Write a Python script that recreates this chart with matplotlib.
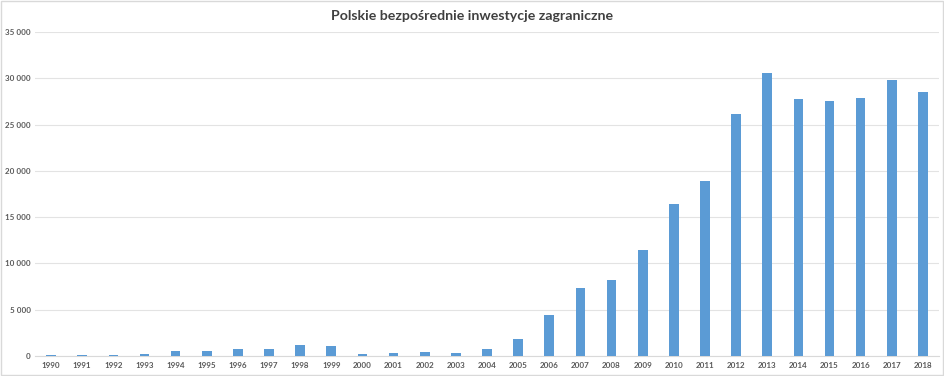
import numpy as np
import matplotlib.pyplot as plt
from matplotlib.ticker import FuncFormatter

years = [str(y) for y in range(1990, 2019)]
values = [100, 100, 100, 250, 500, 550, 800, 750, 1150, 1050,
          250, 300, 450, 350, 750, 1850, 4400, 7300, 8200, 11500,
          16400, 18900, 26100, 30600, 27800, 27500, 27900, 29800, 28500]
yticks = list(range(0, 35001, 5000))

plt.rcParams['font.family'] = ['Lato', 'DejaVu Sans']

fig = plt.figure(figsize=(9.45, 3.76), dpi=100)
ax = fig.add_axes([35.5 / 945, 20 / 376, (938.5 - 35.5) / 945, (356 - 32) / 376])

x = np.arange(len(years))
ax.bar(x, values, width=0.31, color='#5b9bd5', zorder=3)

ax.set_xlim(-0.5, len(years) - 0.5)
ax.set_ylim(0, 35000)
ax.set_yticks(yticks)
ax.yaxis.set_major_formatter(FuncFormatter(lambda v, p: f"{int(v):,}".replace(",", " ")))
ax.set_xticks(x)
ax.set_xticklabels(years)

ax.grid(axis='y', color='#e3e3e3', linewidth=0.8, zorder=0)
for side in ['top', 'right', 'left']:
    ax.spines[side].set_visible(False)
ax.spines['bottom'].set_color('#d9d9d9')
ax.tick_params(axis='both', length=0, labelsize=5.8, labelcolor='#595959')
ax.tick_params(axis='y', pad=3.5)
ax.tick_params(axis='x', pad=4)
for lbl in ax.get_xticklabels() + ax.get_yticklabels():
    lbl.set_fontweight('bold')

fig.text(0.5, 1 - 16 / 376, 'Polskie bezpośrednie inwestycje zagraniczne',
         ha='center', va='center', fontsize=10.2, fontweight='bold', color='#404040')

fig.patches.append(plt.Rectangle((0.001, 0.002), 0.997, 0.995, transform=fig.transFigure,
                                 fill=False, edgecolor='#d9d9d9', linewidth=1))

fig.savefig('out.png', dpi=100)
